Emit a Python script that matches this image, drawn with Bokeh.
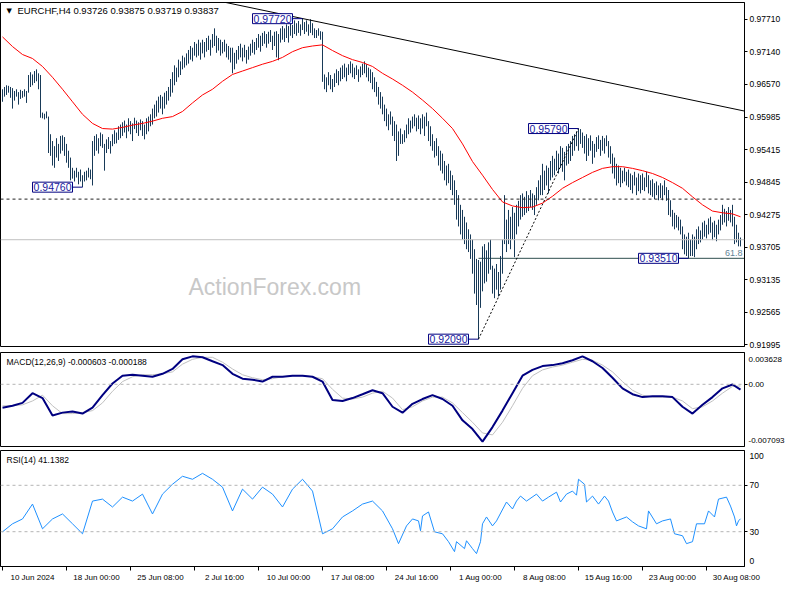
import numpy as np
from bokeh.plotting import figure
from bokeh.layouts import column
from bokeh.models import Range1d, FixedTicker, NumeralTickFormatter, Label, Span
from bokeh.embed import file_html
from bokeh.resources import INLINE

symbol = "EURCHF"
timeframe = "H4"

highs = [
    .9648, .9652, .9655, .9654, .9652, .9650, .9645, .9648, .9643, .9647,
    .9645, .9648, .9645, .9673, .9678, .9674, .9680, .9683, .9676, .9673,
    .9607, .9605, .9609, .9600, .9569, .9557, .9548, .9562, .9552, .9566,
    .9567, .9564, .9552, .9540, .9528, .9510, .9505, .9510, .9503, .9507,
    .9497, .9503, .9505, .9510, .9507, .9557, .9566, .9569, .9562, .9572,
    .9569, .9552, .9560, .9564, .9557, .9569, .9576, .9572, .9583, .9586,
    .9590, .9593, .9586, .9597, .9592, .9588, .9598, .9593, .9590, .9595,
    .9592, .9586, .9597, .9600, .9604, .9614, .9621, .9628, .9635, .9638,
    .9635, .9642, .9645, .9652, .9666, .9678, .9690, .9686, .9700, .9697,
    .9707, .9704, .9711, .9717, .9724, .9721, .9731, .9728, .9735, .9730,
    .9735, .9731, .9738, .9742, .9735, .9745, .9755, .9742, .9738, .9735,
    .9731, .9735, .9728, .9724, .9721, .9721, .9712, .9717, .9724, .9728,
    .9721, .9726, .9717, .9723, .9728, .9735, .9731, .9738, .9745, .9742,
    .9747, .9750, .9745, .9749, .9752, .9742, .9749, .9750, .9745, .9755,
    .9759, .9755, .9762, .9759, .9766, .9761, .9769, .9764, .9768, .9762,
    .9772, .9766, .9769, .9762, .9771, .9764, .9755, .9752, .9755, .9750,
    .9749, .9674, .9669, .9678, .9673, .9666, .9676, .9683, .9680, .9686,
    .9690, .9693, .9686, .9692, .9697, .9693, .9686, .9690, .9683, .9688,
    .9693, .9697, .9692, .9686, .9683, .9678, .9669, .9661, .9652, .9643,
    .9635, .9621, .9614, .9604, .9609, .9600, .9592, .9586, .9574, .9579,
    .9569, .9576, .9586, .9597, .9593, .9600, .9604, .9598, .9602, .9597,
    .9604, .9600, .9607, .9592, .9583, .9569, .9557, .9562, .9548, .9540,
    .9535, .9522, .9514, .9517, .9505, .9497, .9488, .9471, .9462, .9445,
    .9436, .9424, .9414, .9402, .9393, .9384, .9367, .9350, .9348, .9345,
    .9372, .9376, .9365, .9379, .9384, .9338, .9333, .9341, .9327, .9355,
    .9384, .9462, .9419, .9436, .9424, .9441, .9431, .9445, .9452, .9462,
    .9465, .9459, .9469, .9462, .9471, .9465, .9462, .9476, .9488, .9497,
    .9517, .9505, .9514, .9510, .9522, .9531, .9526, .9540, .9535, .9548,
    .9545, .9538, .9548, .9552, .9557, .9566, .9569, .9574, .9579, .9578,
    .9572, .9566, .9569, .9562, .9567, .9557, .9552, .9564, .9567, .9559,
    .9566, .9562, .9567, .9557, .9548, .9535, .9528, .9517, .9514, .9510,
    .9505, .9510, .9503, .9507, .9500, .9497, .9503, .9493, .9500, .9497,
    .9500, .9493, .9503, .9497, .9488, .9490, .9483, .9486, .9479, .9483,
    .9479, .9488, .9476, .9471, .9453, .9436, .9431, .9427, .9424, .9419,
    .9407, .9393, .9389, .9396, .9384, .9393, .9389, .9402, .9407, .9400,
    .9414, .9417, .9410, .9421, .9424, .9414, .9417, .9410, .9419, .9427,
    .9445, .9438, .9434, .9441, .9436, .9445, .9424, .9410, .9396, .93875,
]

lows = [
    .9626, .9635, .9638, .9642, .9633, .9614, .9628, .9635, .9621, .9631,
    .9633, .9635, .9624, .9642, .9652, .9655, .9659, .9662, .9648, .9598,
    .9597, .9595, .9597, .9536, .9531, .9514, .9510, .9528, .9522, .9535,
    .9540, .9531, .9519, .9510, .9488, .9491, .9486, .9493, .9481, .9486,
    .9476, .9486, .9488, .9493, .9490, .9479, .9531, .9540, .9535, .9548,
    .9545, .9505, .9536, .9543, .9535, .9548, .9552, .9553, .9559, .9562,
    .9566, .9572, .9562, .9574, .9569, .9557, .9578, .9571, .9566, .9576,
    .9566, .9560, .9569, .9574, .9583, .9586, .9597, .9600, .9607, .9614,
    .9604, .9614, .9621, .9628, .9635, .9642, .9655, .9661, .9669, .9673,
    .9683, .9686, .9690, .9693, .9700, .9697, .9707, .9704, .9707, .9700,
    .9711, .9704, .9714, .9717, .9707, .9721, .9724, .9712, .9716, .9707,
    .9711, .9714, .9704, .9700, .9695, .9676, .9683, .9693, .9700, .9704,
    .9697, .9704, .9693, .9700, .9707, .9712, .9709, .9717, .9721, .9714,
    .9724, .9728, .9721, .9728, .9731, .9717, .9724, .9704, .9699, .9730,
    .9735, .9731, .9738, .9730, .9742, .9738, .9745, .9742, .9747, .9742,
    .9752, .9745, .9749, .9742, .9747, .9743, .9738, .9738, .9742, .9735,
    .9661, .9648, .9643, .9655, .9648, .9643, .9652, .9659, .9655, .9662,
    .9666, .9669, .9662, .9673, .9676, .9669, .9666, .9673, .9661, .9669,
    .9673, .9676, .9669, .9662, .9659, .9648, .9643, .9635, .9621, .9614,
    .9604, .9592, .9583, .9576, .9586, .9566, .9557, .9522, .9531, .9552,
    .9552, .9555, .9562, .9569, .9572, .9579, .9583, .9574, .9578, .9569,
    .9579, .9566, .9583, .9557, .9548, .9540, .9528, .9531, .9514, .9505,
    .9500, .9488, .9479, .9483, .9471, .9462, .9445, .9419, .9407, .9393,
    .9384, .9376, .9367, .9362, .9350, .9324, .9289, .9269, .9209, .9264,
    .9293, .9307, .9310, .9324, .9331, .9289, .9281, .9296, .9284, .9296,
    .9324, .9376, .9362, .9376, .9367, .9384, .9353, .9393, .9407, .9419,
    .9424, .9427, .9431, .9434, .9441, .9436, .9427, .9445, .9453, .9462,
    .9462, .9471, .9479, .9465, .9488, .9493, .9497, .9505, .9500, .9510,
    .9503, .9488, .9514, .9517, .9522, .9531, .9540, .9548, .9540, .9552,
    .9545, .9535, .9522, .9531, .9540, .9517, .9528, .9538, .9543, .9531,
    .9540, .9535, .9548, .9528, .9517, .9500, .9491, .9479, .9483, .9476,
    .9483, .9486, .9479, .9476, .9471, .9465, .9479, .9462, .9469, .9465,
    .9471, .9469, .9476, .9465, .9462, .9459, .9455, .9462, .9453, .9457,
    .9453, .9462, .9452, .9427, .9424, .9407, .9402, .9405, .9400, .9393,
    .9367, .9358, .9355, .9351, .9355, .9355, .9353, .9367, .9376, .9379,
    .9384, .9389, .9386, .9393, .9396, .9383, .9388, .9381, .9393, .9400,
    .9410, .9414, .9407, .9417, .9414, .9407, .9376, .9379, .9372, .93719,
]

last_open = 0.93726
last_close = 0.93837

time_tick_bars = [0, 32, 64, 96, 128, 160, 192, 224, 256, 288, 320, 352]
time_tick_labels = ["10 Jun 2024", "18 Jun 00:00", "25 Jun 08:00", "2 Jul 16:00",
                    "10 Jul 00:00", "17 Jul 08:00", "24 Jul 16:00", "1 Aug 00:00",
                    "8 Aug 08:00", "15 Aug 16:00", "23 Aug 00:00", "30 Aug 08:00"]

price_ticks = [0.97710, 0.97140, 0.96570, 0.95985, 0.95415, 0.94845,
               0.94275, 0.93705, 0.93135, 0.92565, 0.91995]
price_range = [0.91961, 0.98004]

# moving average and MACD readings, one every 5 bars plus the last bar
indicator_step = 5
ma_values = [
    .9740, .9723, .9709, .9702, .9688, .9669, .9648, .9626, .9604, .9588,
    .9579, .9578, .9581, .9585, .9588, .9592, .9597, .9600, .9609, .9624,
    .9638, .9648, .9662, .9674, .9680, .9686, .9692, .9697, .9704, .9714,
    .9721, .9724, .9726, .9716, .9707, .9700, .9695, .9688, .9676, .9666,
    .9655, .9643, .9629, .9614, .9597, .9579, .9552, .9521, .9497, .9472,
    .9450, .9443, .9440, .9441, .9448, .9460, .9474, .9484, .9493, .9502,
    .9509, .9512, .9512, .9509, .9505, .9500, .9493, .9484, .9474, .9459,
    .9445, .9434, .9431, .9429, .9424,
]
macd_main = [
    -0.00267, -0.00245, -0.00212, -0.00101, -0.00157, -0.00356, -0.00323, -0.00311, -0.00334, -0.00267,
    -0.00124, 0.00009, 0.00098, 0.00109, 0.00098, 0.00086, 0.00120, 0.00175, 0.00285, 0.00319,
    0.00308, 0.00263, 0.00219, 0.00120, 0.00064, 0.00053, 0.00031, 0.00086, 0.00086, 0.00098,
    0.00098, 0.00086, 0.00031, -0.00179, -0.00190, -0.00157, -0.00113, -0.00068, -0.00101, -0.00256,
    -0.00323, -0.00223, -0.00168, -0.00124, -0.00168, -0.00245, -0.00411, -0.00510, -0.00654, -0.00488,
    -0.00300, -0.00101, 0.00098, 0.00164, 0.00208, 0.00219, 0.00241, 0.00274, 0.00319, 0.00263,
    0.00186, 0.00075, -0.00046, -0.00113, -0.00146, -0.00135, -0.00135, -0.00146, -0.00256, -0.00334,
    -0.00234, -0.00146, -0.00046, -0.00002, -0.000603,
]
macd_signal = [
    -0.00245, -0.00245, -0.00234, -0.00190, -0.00124, -0.00245, -0.00334, -0.00334, -0.00323, -0.00300,
    -0.00212, -0.00079, 0.00031, 0.00086, 0.00109, 0.00109, 0.00120, 0.00142, 0.00230, 0.00285,
    0.00308, 0.00308, 0.00252, 0.00175, 0.00109, 0.00075, 0.00053, 0.00064, 0.00086, 0.00098,
    0.00098, 0.00086, 0.00064, -0.00057, -0.00157, -0.00168, -0.00146, -0.00101, -0.00079, -0.00157,
    -0.00289, -0.00256, -0.00190, -0.00146, -0.00146, -0.00212, -0.00323, -0.00433, -0.00555, -0.00577,
    -0.00433, -0.00245, -0.00046, 0.00098, 0.00164, 0.00197, 0.00219, 0.00252, 0.00285, 0.00274,
    0.00219, 0.00142, 0.00031, -0.00068, -0.00124, -0.00146, -0.00146, -0.00146, -0.00190, -0.00278,
    -0.00256, -0.00190, -0.00101, -0.00024, -0.000188,
]
macd_range = [-0.007093, 0.003628]

# RSI readings (bar number, value)
rsi_bars = [
    0, 5, 10, 15, 20, 25, 30, 35, 40, 45, 50, 55, 60, 65, 70, 75, 80, 85, 90, 95,
    100, 105, 110, 115, 120, 125, 130, 135, 140, 145, 150, 155, 160, 165, 170, 175,
    180, 185, 190, 195, 198, 202, 205, 208, 209, 210, 213, 216, 220, 223, 226, 227,
    231, 232, 235, 237, 239, 240, 242, 245, 247, 252, 255, 257, 259, 262, 267, 270,
    273, 277, 279, 282, 285, 287, 288, 291, 292, 295, 298, 301, 303, 305, 307, 312,
    315, 318, 322, 323, 327, 330, 334, 336, 340, 342, 345, 347, 351, 353, 356, 358,
    362, 364, 366, 367, 368, 369,
]
rsi_values = [
    29.9, 36.8, 41.0, 53.8, 32.5, 41.0, 45.3, 36.8, 28.2, 56.4, 58.1, 51.3, 59.8, 56.4, 62.4, 45.3, 62.4, 70.9, 77.8, 75.2,
    80.3, 75.2, 68.4, 47.9, 66.7, 58.1, 68.4, 62.4, 51.3, 66.7, 75.2, 65.0, 28.2, 32.5, 42.7, 47.9,
    53.8, 56.4, 47.9, 32.5, 19.7, 35.0, 41.0, 39.3, 30.8, 43.6, 47.0, 29.9, 28.2, 21.4, 12.8, 21.4,
    15.4, 22.2, 15.4, 11.1, 21.4, 36.8, 42.7, 35.0, 39.3, 55.6, 49.6, 56.4, 60.7, 56.4, 62.4, 56.4,
    59.8, 64.1, 55.6, 62.4, 65.0, 61.5, 75.2, 70.9, 55.6, 60.7, 53.8, 60.7, 56.4, 47.0, 39.3, 42.7,
    38.5, 35.0, 32.5, 47.9, 36.8, 39.3, 41.0, 28.2, 26.5, 19.7, 21.4, 36.8, 36.8, 47.9, 42.7, 58.1,
    59.8, 52.1, 42.7, 35.0, 39.3, 41.1382,
]
rsi_levels = [70, 30]

swing_bars = [40, 150, 238, 288, 343]
swing_prices = [0.94760, 0.97720, 0.92090, 0.95790, 0.93510]
trend_bars = [100, 376]
trend_prices = [0.9809, 0.9606]
fib_bars = [238, 288]
fib_prices = [0.92090, 0.95790]
fib_level = 0.93510
fib_ratio = "61.8"
alert_level = 0.94550

# ---------------------------------------------------------------
FONT = "Liberation Sans"
BAR = "#183a58"
N = len(highs)
bars = np.arange(N)
ind_x = list(range(0, N, indicator_step)) + [N - 1]
FW = 744
x_range = Range1d(-1.0, FW / 2 - 1.0)


def base(h_frame, y_range, top=2, bottom=2, xloc=None):
    p = figure(frame_width=FW, frame_height=h_frame, x_range=x_range, y_range=y_range,
               output_backend="svg", toolbar_location=None,
               y_axis_location="right", x_axis_location=xloc)
    p.min_border_left = 0
    p.min_border_right = 40
    p.min_border_top = top
    p.min_border_bottom = bottom
    p.outline_line_color = "black"
    p.outline_line_width = 1
    p.grid.grid_line_color = None
    p.background_fill_color = "white"
    p.border_fill_color = "white"
    ax = p.yaxis[0]
    ax.axis_line_color = "black"
    ax.major_tick_in = 0
    ax.major_tick_out = 3
    ax.major_tick_line_color = "black"
    ax.minor_tick_line_color = None
    ax.major_label_text_font = FONT
    ax.major_label_text_font_size = "8.5px"
    ax.major_label_text_color = "black"
    ax.major_label_standoff = 2
    return p


# ---------------- main price pane ----------------
p1 = base(344, Range1d(*price_range), top=2, bottom=5)
p1.yaxis.ticker = FixedTicker(ticks=price_ticks)
p1.yaxis.formatter = NumeralTickFormatter(format="0.00000")

p1.add_layout(Span(location=last_close, dimension="width", line_color="#c0c0c0", line_width=1))
p1.add_layout(Span(location=alert_level, dimension="width", line_color="#222222",
                   line_dash="3 3", line_width=1))
p1.segment(x0=[fib_bars[0]], y0=[fib_level], x1=[x_range.end], y1=[fib_level],
           line_color="#2f4f4f", line_width=1)
p1.segment(x0=bars, y0=lows, x1=bars, y1=highs, line_color=BAR, line_width=1)
p1.line(ind_x, ma_values, line_color="#ff0000", line_width=1)
p1.line(trend_bars, trend_prices, line_color="black", line_width=1)
p1.line(fib_bars, fib_prices, line_color="black", line_dash="2 2", line_width=1)

for b, pr in zip(swing_bars, swing_prices):
    p1.segment(x0=[b - 5], y0=[pr], x1=[b], y1=[pr], line_color="#000080", line_width=1)
    p1.add_layout(Label(x=b - 5, y=pr, text=f"{pr:.5f}", text_align="right",
                        text_baseline="middle", text_font=FONT, text_font_size="10.5px",
                        text_color="#1a1aa0", background_fill_color="white",
                        border_line_color="#000080", border_line_width=1, padding=1))

p1.add_layout(Label(x=x_range.end, y=fib_level, x_offset=-2, y_offset=2, text=fib_ratio,
                    text_align="right", text_baseline="bottom", text_font=FONT,
                    text_font_size="9px", text_color="#5f8496"))

p1.add_layout(Label(x=93, y=0.9300, text="ActionForex.com", text_align="left",
                    text_baseline="middle", text_font=FONT, text_font_size="23px",
                    text_color="#c8c8c8"))

p1.add_layout(Label(x=x_range.start, y=price_range[1], x_offset=6, y_offset=-4, text="\u25bc",
                    text_baseline="top", text_font="DejaVu Sans", text_font_size="7px",
                    text_color="black"))
p1.add_layout(Label(x=x_range.start, y=price_range[1], x_offset=17, y_offset=-2,
                    text=f"{symbol},{timeframe}  {last_open:.5f} {highs[-1]:.5f} {lows[-1]:.5f} {last_close:.5f}",
                    text_baseline="top", text_font=FONT, text_font_size="9.5px",
                    text_color="black"))

for lvl, bg in ((alert_level, "#2f4f4f"), (last_close, "#000000")):
    p1.add_layout(Label(x=x_range.end, y=lvl, x_offset=3, text=f"{lvl:.5f}",
                        text_align="left", text_baseline="middle", text_font=FONT,
                        text_font_size="8.5px", text_color="white",
                        background_fill_color=bg, padding=2))

# ---------------- MACD pane ----------------
p2 = base(94, Range1d(*macd_range), top=1, bottom=2)
span_m = macd_range[1] - macd_range[0]
t_top = macd_range[1] - 0.072 * span_m
t_bot = macd_range[0] + 0.062 * span_m
p2.yaxis.ticker = FixedTicker(ticks=[t_top, 0.0, t_bot], minor_ticks=[0.0])
p2.yaxis.major_label_overrides = {t_top: f"{macd_range[1]:.6f}", 0.0: "0.00",
                                  t_bot: f"{macd_range[0]:.6f}"}
p2.yaxis.major_tick_line_color = None
p2.yaxis.major_tick_out = 2
p2.yaxis.major_label_standoff = 1
p2.yaxis.major_label_text_font_size = "8px"
p2.yaxis.minor_tick_line_color = "black"
p2.yaxis.minor_tick_in = 0
p2.yaxis.minor_tick_out = 3
p2.add_layout(Span(location=0, dimension="width", line_color="#b4b4b4",
                   line_dash="3 3", line_width=1))
p2.line(ind_x, macd_signal, line_color="#c0c0c0", line_width=1)
p2.line(ind_x, macd_main, line_color="#000080", line_width=2)
p2.add_layout(Label(x=x_range.start, y=macd_range[1], x_offset=6, y_offset=-4,
                    text=f"MACD(12,26,9) {macd_main[-1]:.6f} {macd_signal[-1]:.6f}",
                    text_baseline="top", text_font=FONT, text_font_size="8.5px",
                    text_color="black"))

# ---------------- RSI pane ----------------
p3 = base(116, Range1d(0, 100), top=2, bottom=18, xloc="below")
p3.yaxis.ticker = FixedTicker(ticks=[95, 70, 30, 5], minor_ticks=rsi_levels)
p3.yaxis.major_label_overrides = {95: "100", 5: "0"}
p3.yaxis.major_tick_line_color = None
p3.yaxis.minor_tick_line_color = "black"
p3.yaxis.minor_tick_in = 0
p3.yaxis.minor_tick_out = 3
for lvl in rsi_levels:
    p3.add_layout(Span(location=lvl, dimension="width", line_color="#b4b4b4",
                       line_dash="3 3", line_width=1))
p3.line(rsi_bars, rsi_values, line_color="#1e90ff", line_width=1)
p3.add_layout(Label(x=x_range.start, y=100, x_offset=6, y_offset=-4,
                    text=f"RSI(14) {rsi_values[-1]:.4f}",
                    text_baseline="top", text_font=FONT, text_font_size="8.5px",
                    text_color="black"))

xa = p3.xaxis[0]
label_pos = [b + 15 for b in time_tick_bars]
xa.ticker = FixedTicker(ticks=label_pos, minor_ticks=time_tick_bars)
xa.major_label_overrides = {pos: lbl for pos, lbl in zip(label_pos, time_tick_labels)}
xa.major_tick_line_color = None
xa.major_tick_in = 0
xa.major_tick_out = 4
xa.minor_tick_line_color = "black"
xa.minor_tick_in = 0
xa.minor_tick_out = 4
xa.axis_line_color = "black"
xa.major_label_text_font = FONT
xa.major_label_text_font_size = "8px"
xa.major_label_text_color = "black"
xa.major_label_standoff = 2

layout = column(p1, p2, p3, spacing=0)

with open("out.html", "w") as f:
    f.write(file_html(layout, INLINE))
